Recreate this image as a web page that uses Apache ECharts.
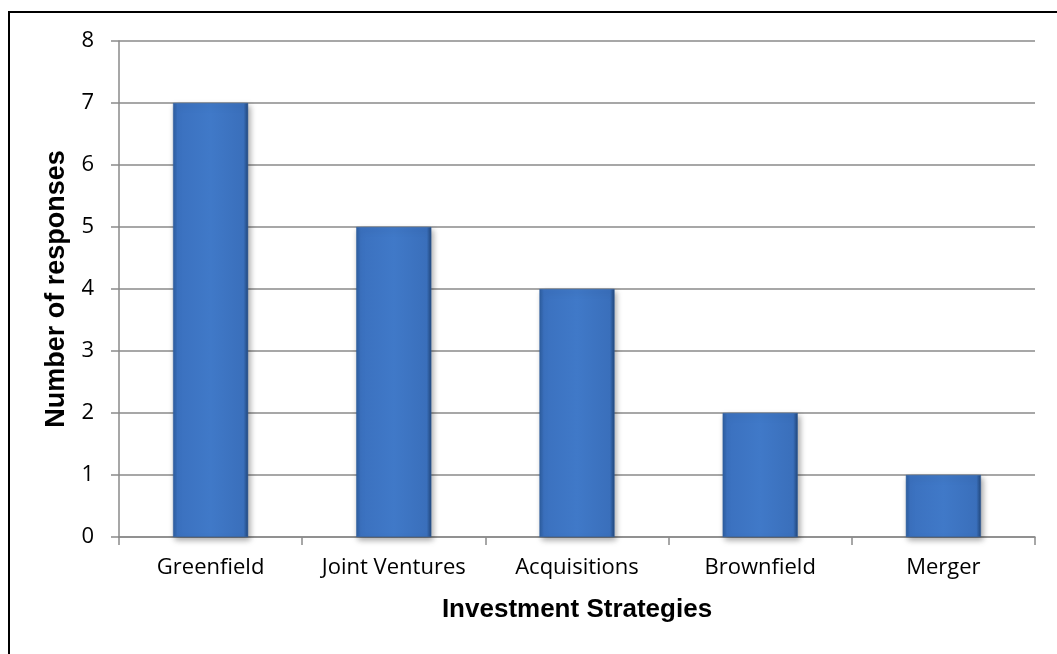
<!DOCTYPE html>
<html>
<head>
<meta charset="utf-8">
<script src="https://cdn.jsdelivr.net/npm/echarts@6/dist/echarts.min.js"></script>
<style>
  html, body { margin: 0; padding: 0; background: #fff; }
  .wrap { position: relative; width: 1057px; height: 654px; overflow: hidden; }
  .frame { position: absolute; left: 8px; top: 11px; width: 1100px; height: 700px; border: 2px solid #000; }
  #chart { position: absolute; left: 0; top: 0; width: 1057px; height: 654px; }
</style>
</head>
<body>
<div class="wrap">
  <div class="frame"></div>
  <div id="chart"></div>
</div>
<script>
  // 数据
  const categories = ['Greenfield', 'Joint Ventures', 'Acquisitions', 'Brownfield', 'Merger'];
  const responses = [7, 5, 4, 2, 1];

  const gridColor = '#8a8a8a';
  let myChart = echarts.init(document.getElementById('chart'));
  let option = {
    animation: false,
    grid: { left: 119, right: 22, top: 41, bottom: 117 },
    xAxis: {
      type: 'category',
      data: categories,
      name: 'Investment Strategies',
      nameLocation: 'middle',
      nameGap: 60,
      nameTextStyle: { fontFamily: 'Liberation Sans', fontWeight: 'bold', fontSize: 26, color: '#000' },
      axisLine: { lineStyle: { color: gridColor, width: 1.5 } },
      axisTick: { show: true, interval: 0, length: 8, lineStyle: { color: gridColor, width: 1.5 } },
      axisLabel: { interval: 0, hideOverlap: false, margin: 20, fontFamily: 'Open Sans', fontSize: 22, color: '#000' }
    },
    yAxis: {
      type: 'value',
      min: 0, max: 8, interval: 1,
      name: 'Number of responses',
      nameLocation: 'middle',
      nameGap: 44,
      nameTextStyle: { fontFamily: 'Liberation Sans', fontWeight: 'bold', fontSize: 27, color: '#000' },
      axisLine: { show: true, lineStyle: { color: gridColor, width: 1.5 } },
      axisTick: { show: true, length: 8, lineStyle: { color: gridColor, width: 1.5 } },
      axisLabel: { margin: 25, fontFamily: 'Open Sans', fontSize: 22, color: '#000' },
      splitLine: { lineStyle: { color: gridColor, width: 1.5 } }
    },
    series: [{
      type: 'bar',
      data: responses,
      barWidth: '41%',
      itemStyle: {
        color: new echarts.graphic.LinearGradient(0, 0, 1, 0, [
          { offset: 0, color: '#2d5d9f' },
          { offset: 0.06, color: '#3b71bf' },
          { offset: 0.5, color: '#4079c8' },
          { offset: 0.94, color: '#3a6fbb' },
          { offset: 1, color: '#21467a' }
        ]),
        borderColor: '#2f5f9e',
        borderWidth: 0.5,
        shadowColor: 'rgba(0,0,0,0.35)',
        shadowBlur: 6,
        shadowOffsetX: 2,
        shadowOffsetY: 3
      }
    }]
  };
  myChart.setOption(option);
</script>
</body>
</html>
